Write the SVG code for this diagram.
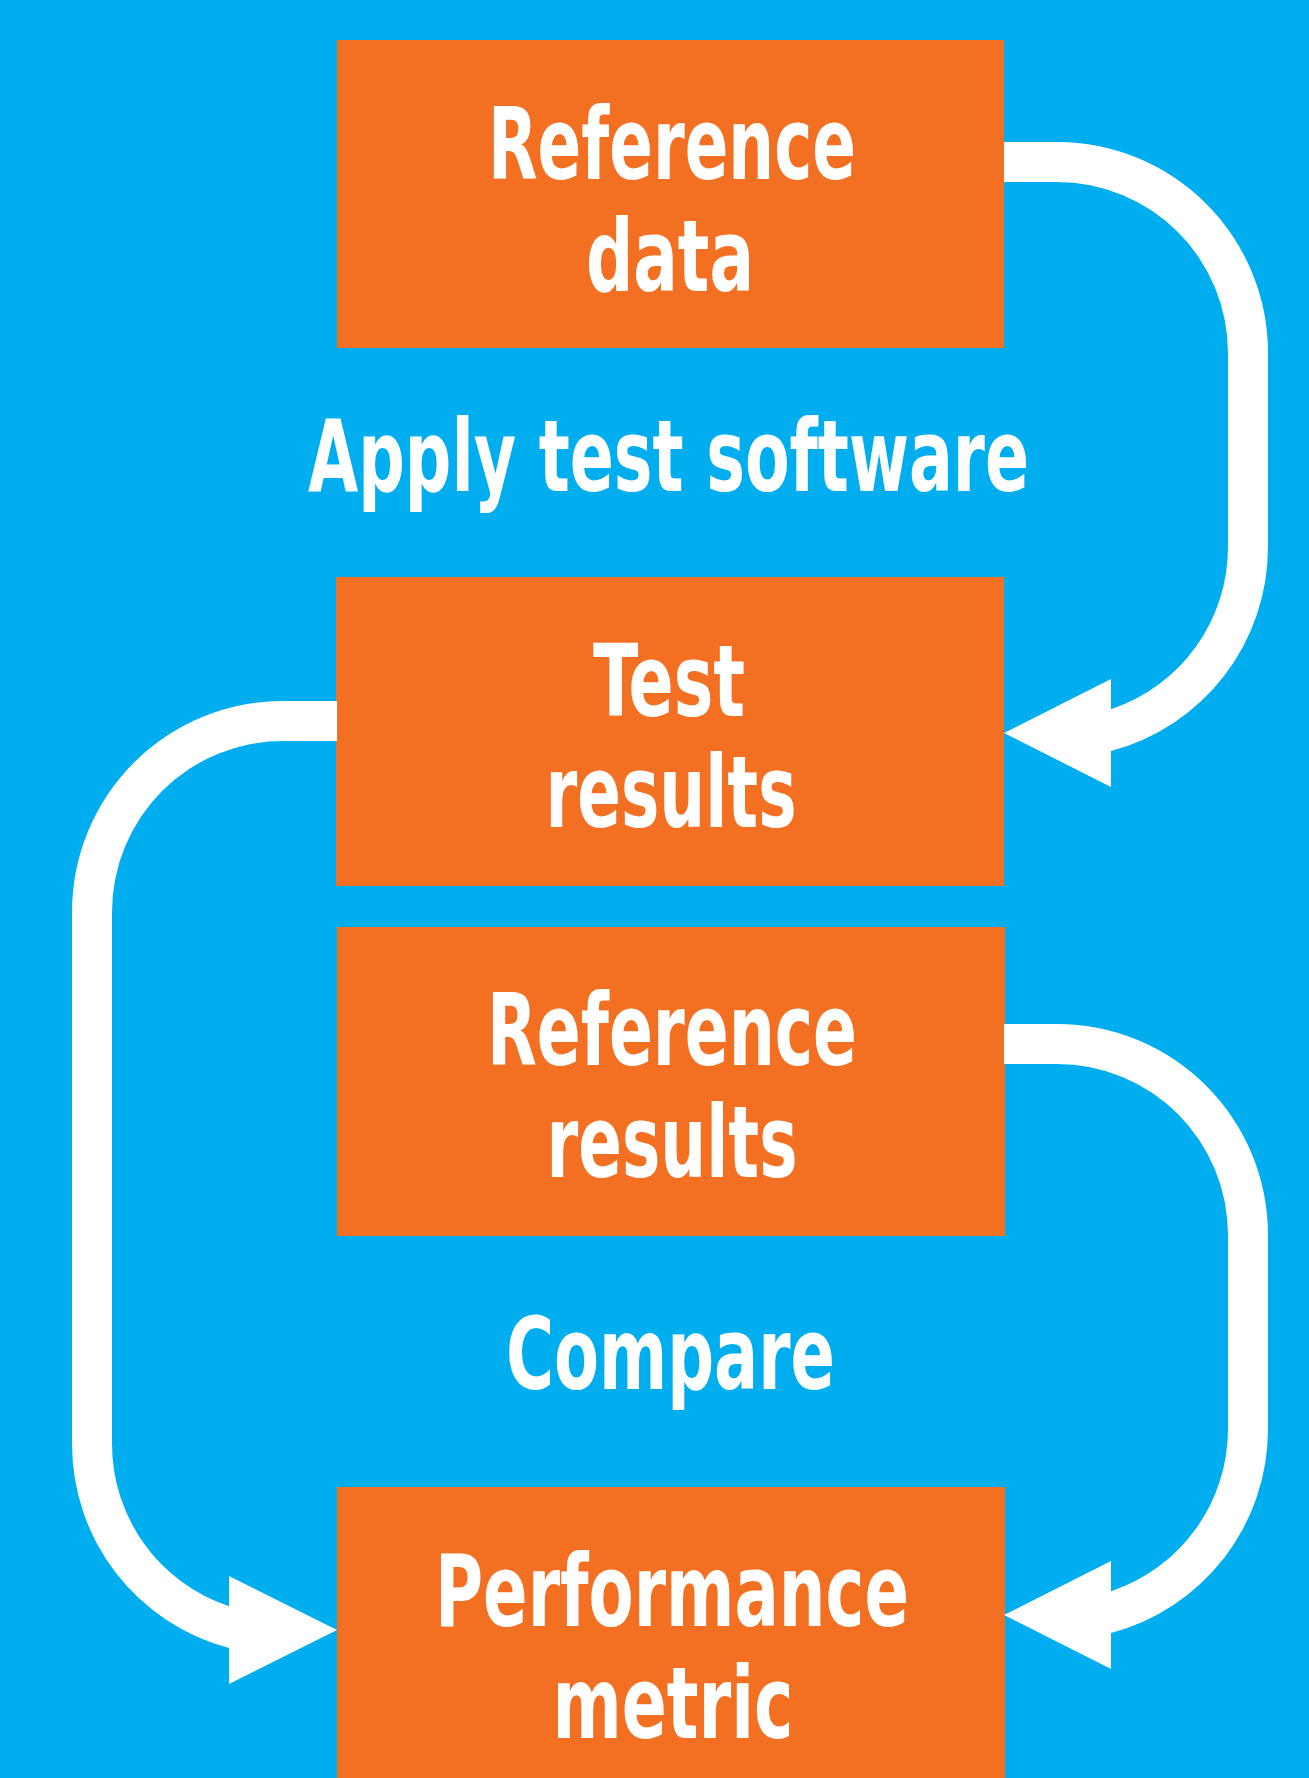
<svg xmlns="http://www.w3.org/2000/svg" width="1309" height="1778" viewBox="0 0 1309 1778">
  <style>
    .bg { fill: #00AEEF; }
    .box { fill: #F36F21; }
    .flow { fill: #FFFFFF; }
    .label {
      fill: #FFFFFF;
      font-family: "Liberation Sans Narrow", "DejaVu Sans Condensed", "Liberation Sans", sans-serif;
      font-weight: bold;
      font-size: 100px;
      text-anchor: middle;
    }
  </style>

  <rect class="bg" x="0" y="0" width="1309" height="1778"/>

  <!-- process steps -->
  <g id="reference-data">
    <rect class="box" x="337" y="40" width="667" height="308"/>
    <text class="label" x="672" y="179" textLength="368" lengthAdjust="spacingAndGlyphs">Reference</text>
    <text class="label" x="670" y="291" textLength="168" lengthAdjust="spacingAndGlyphs">data</text>
  </g>

  <g id="apply-test-software">
    <text class="label" x="668.5" y="491" textLength="721" lengthAdjust="spacingAndGlyphs">Apply test software</text>
  </g>

  <g id="test-results">
    <rect class="box" x="336" y="577" width="668" height="309"/>
    <text class="label" x="669" y="716" textLength="152" lengthAdjust="spacingAndGlyphs">Test</text>
    <text class="label" x="671" y="827" textLength="251" lengthAdjust="spacingAndGlyphs">results</text>
  </g>

  <g id="reference-results">
    <rect class="box" x="337" y="927" width="668" height="309"/>
    <text class="label" x="672" y="1065" textLength="370" lengthAdjust="spacingAndGlyphs">Reference</text>
    <text class="label" x="672" y="1177" textLength="251" lengthAdjust="spacingAndGlyphs">results</text>
  </g>

  <g id="compare">
    <text class="label" x="670.5" y="1389" textLength="329" lengthAdjust="spacingAndGlyphs">Compare</text>
  </g>

  <g id="performance-metric">
    <rect class="box" x="337" y="1487" width="668" height="291"/>
    <text class="label" x="672" y="1625.5" textLength="474" lengthAdjust="spacingAndGlyphs">Performance</text>
    <text class="label" x="673" y="1737.5" textLength="241" lengthAdjust="spacingAndGlyphs">metric</text>
  </g>

  <!-- bent arrows: 40px bands, 211/171 outer/inner corner radii, 108px heads -->
  <g id="connectors">
    <path class="flow" d="M1004,142 H1057 A211,211 0 0 1 1268,353 V547 A211,211 0 0 1 1111,751 V787 L1004,733 L1111,679 V709.3 A171,171 0 0 0 1228,547 V353 A171,171 0 0 0 1057,182 H1004 Z"/>
    <path class="flow" d="M1004,1024 H1057 A211,211 0 0 1 1268,1235 V1429 A211,211 0 0 1 1111,1633 V1669 L1004,1615 L1111,1561 V1591.3 A171,171 0 0 0 1228,1429 V1235 A171,171 0 0 0 1057,1064 H1004 Z"/>
    <path class="flow" d="M337,701 H283 A211,211 0 0 0 72,912 V1444 A211,211 0 0 0 229,1648 V1684 L337,1630 L229,1576 V1606.3 A171,171 0 0 1 112,1444 V912 A171,171 0 0 1 283,741 H337 Z"/>
  </g>
</svg>
